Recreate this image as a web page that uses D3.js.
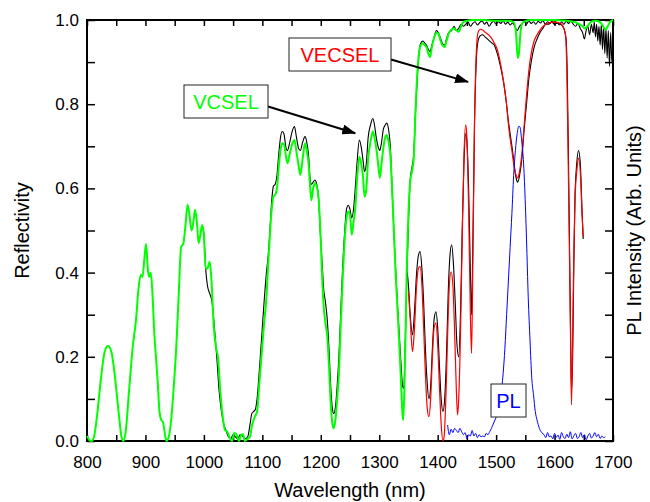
<!DOCTYPE html>
<html>
<head>
<meta charset="utf-8">
<script src="https://cdn.jsdelivr.net/npm/d3@7"></script>
<style>
  body { margin: 0; background: #fff; }
  svg text { font-family: "Liberation Sans", Arial, sans-serif; }
</style>
</head>
<body>
<svg id="chart"></svg>
<script>
// VCSEL simulation (green)
const vcselSimWl = [800, 804, 808, 812, 818, 824, 830, 836, 842, 848, 854, 859, 862, 866, 872, 878, 884, 888, 892, 895, 898, 901, 904, 906, 909, 912, 915, 918, 921, 924, 927, 930, 933, 936, 940, 944, 948, 953, 957, 961, 965, 969, 972, 975, 979, 982, 985, 988, 991, 994, 997, 1000, 1003, 1006, 1010, 1013, 1017, 1021, 1024, 1028, 1032, 1036, 1040, 1044, 1048, 1052, 1056, 1060, 1064, 1067, 1070, 1075, 1079, 1082, 1085, 1088, 1091, 1095, 1099, 1103, 1107, 1110, 1113, 1116, 1119, 1122, 1125, 1128, 1131, 1134, 1137, 1140, 1143, 1147, 1151, 1155, 1158, 1162, 1165, 1169, 1173, 1176, 1179, 1182, 1184, 1187, 1190, 1193, 1196, 1199, 1202, 1205, 1208, 1211, 1214, 1217, 1220, 1222, 1225, 1228, 1231, 1234, 1237, 1241, 1244, 1247, 1250, 1253, 1256, 1259, 1262, 1266, 1269, 1272, 1275, 1278, 1281, 1285, 1289, 1292, 1295, 1298, 1301, 1304, 1307, 1310, 1313, 1316, 1319, 1322, 1325, 1328, 1331, 1334, 1337, 1340, 1341, 1343, 1345, 1347, 1350, 1353, 1356, 1359, 1362, 1365, 1368, 1371, 1375, 1378, 1381, 1384, 1387, 1390, 1394, 1398, 1401, 1404, 1408, 1412, 1415, 1419, 1424, 1428, 1432, 1436, 1440, 1444, 1450, 1460, 1480, 1500, 1520, 1530, 1534, 1537, 1539, 1542, 1546, 1560, 1600, 1620, 1635, 1642, 1648, 1652, 1656, 1662, 1670, 1678, 1683, 1687, 1691, 1695, 1700];
const vcselSimR = [0.012, 0.002, 0.0, 0.01, 0.07, 0.15, 0.21, 0.226, 0.21, 0.15, 0.07, 0.01, 0.0, 0.02, 0.12, 0.22, 0.29, 0.36, 0.395, 0.39, 0.43, 0.468, 0.41, 0.39, 0.4, 0.35, 0.26, 0.2, 0.14, 0.07, 0.05, 0.045, 0.02, 0.0, 0.01, 0.05, 0.12, 0.23, 0.35, 0.46, 0.47, 0.52, 0.561, 0.54, 0.5, 0.52, 0.549, 0.52, 0.47, 0.49, 0.513, 0.49, 0.41, 0.41, 0.426, 0.38, 0.27, 0.22, 0.2, 0.12, 0.06, 0.026, 0.022, 0.008, 0.0, 0.019, 0.015, 0.0, 0.015, 0.016, 0.0, 0.005, 0.01, 0.035, 0.05, 0.06, 0.07, 0.14, 0.21, 0.28, 0.34, 0.42, 0.49, 0.55, 0.58, 0.585, 0.6, 0.65, 0.69, 0.707, 0.705, 0.68, 0.66, 0.683, 0.705, 0.715, 0.69, 0.655, 0.632, 0.67, 0.707, 0.69, 0.66, 0.6, 0.572, 0.6, 0.612, 0.605, 0.58, 0.509, 0.4, 0.32, 0.28, 0.25, 0.18, 0.09, 0.04, 0.03, 0.05, 0.1, 0.16, 0.27, 0.37, 0.48, 0.53, 0.545, 0.537, 0.49, 0.52, 0.553, 0.62, 0.675, 0.66, 0.632, 0.58, 0.6, 0.67, 0.71, 0.735, 0.72, 0.695, 0.66, 0.625, 0.66, 0.695, 0.72, 0.727, 0.71, 0.68, 0.6, 0.5, 0.4, 0.32, 0.24, 0.15, 0.06, 0.05, 0.12, 0.25, 0.4, 0.54, 0.616, 0.64, 0.67, 0.78, 0.87, 0.92, 0.94, 0.945, 0.94, 0.935, 0.92, 0.912, 0.935, 0.958, 0.97, 0.968, 0.955, 0.94, 0.936, 0.95, 0.968, 0.978, 0.98, 0.975, 0.972, 0.985, 0.995, 0.998, 1.0, 1.0, 0.998, 0.998, 0.995, 0.97, 0.91, 0.92, 0.975, 0.995, 1.0, 1.0, 0.998, 0.995, 0.99, 0.985, 0.98, 0.985, 0.995, 0.998, 0.995, 0.985, 0.976, 0.985, 0.995, 1.0];

// VCSEL measured (black)
const vcselMeasWl = [997, 1000, 1003, 1006, 1010, 1014, 1018, 1022, 1026, 1030, 1034, 1038, 1042, 1046, 1050, 1054, 1058, 1062, 1066, 1070, 1075, 1079, 1082, 1085, 1088, 1091, 1095, 1099, 1103, 1107, 1110, 1113, 1116, 1119, 1122, 1125, 1128, 1131, 1134, 1137, 1140, 1143, 1147, 1151, 1155, 1158, 1162, 1165, 1169, 1173, 1176, 1179, 1182, 1184, 1187, 1190, 1193, 1196, 1199, 1202, 1205, 1208, 1211, 1214, 1217, 1220, 1222, 1225, 1228, 1231, 1234, 1237, 1241, 1244, 1247, 1250, 1253, 1256, 1259, 1262, 1266, 1269, 1272, 1275, 1278, 1281, 1285, 1289, 1292, 1295, 1298, 1301, 1304, 1307, 1310, 1313, 1316, 1319, 1322, 1325, 1328, 1331, 1334, 1337, 1340, 1342, 1344, 1347, 1350, 1353, 1356, 1359, 1362, 1365, 1368, 1371, 1375, 1378, 1381, 1384, 1387, 1390, 1394, 1398, 1401, 1404, 1408, 1412, 1415, 1419, 1424, 1428, 1432, 1436, 1440, 1444, 1448, 1452, 1456, 1460, 1464, 1468, 1472, 1476, 1480, 1484, 1488, 1492, 1496, 1500, 1504, 1508, 1512, 1516, 1520, 1524, 1528, 1532, 1536, 1540, 1544, 1548, 1552, 1556, 1560, 1564, 1568, 1572, 1576, 1580, 1584, 1588, 1592, 1596, 1600, 1604, 1608, 1612, 1616, 1620, 1624, 1628, 1632, 1636, 1640, 1644, 1648, 1651, 1654, 1657, 1660, 1663, 1666, 1668, 1670, 1672, 1674, 1676, 1678, 1680, 1682, 1684, 1686, 1688, 1690, 1692, 1694, 1696, 1698, 1700];
const vcselMeasR = [0.513, 0.49, 0.41, 0.37, 0.35, 0.33, 0.27, 0.2, 0.12, 0.07, 0.04, 0.025, 0.01, 0.005, 0.015, 0.01, 0.005, 0.015, 0.012, 0.005, 0.01, 0.04, 0.065, 0.07, 0.075, 0.1, 0.17, 0.25, 0.33, 0.4, 0.44, 0.5, 0.57, 0.605, 0.61, 0.63, 0.68, 0.72, 0.735, 0.73, 0.7, 0.69, 0.71, 0.735, 0.747, 0.725, 0.695, 0.69, 0.71, 0.723, 0.71, 0.68, 0.62, 0.61, 0.615, 0.62, 0.61, 0.58, 0.5, 0.43, 0.36, 0.33, 0.29, 0.22, 0.13, 0.075, 0.065, 0.08, 0.13, 0.2, 0.3, 0.4, 0.5, 0.55, 0.56, 0.55, 0.53, 0.55, 0.6, 0.66, 0.715, 0.7, 0.67, 0.64, 0.66, 0.72, 0.75, 0.766, 0.75, 0.72, 0.7, 0.69, 0.71, 0.74, 0.75, 0.755, 0.74, 0.7, 0.6, 0.5, 0.41, 0.33, 0.26, 0.19, 0.13, 0.125, 0.2, 0.38, 0.52, 0.62, 0.65, 0.68, 0.78, 0.86, 0.92, 0.945, 0.95, 0.945, 0.94, 0.93, 0.925, 0.94, 0.96, 0.975, 0.97, 0.96, 0.945, 0.94, 0.955, 0.97, 0.975, 0.985, 0.975, 0.98, 0.99, 0.985, 0.99, 0.995, 0.985, 0.992, 0.996, 0.988, 0.994, 0.998, 0.99, 0.995, 0.985, 0.993, 0.997, 0.99, 0.996, 0.992, 0.998, 0.99, 0.995, 0.988, 0.993, 0.985, 0.975, 0.985, 0.99, 0.996, 0.99, 0.998, 0.992, 0.996, 0.99, 0.997, 0.993, 0.999, 0.99, 0.996, 0.992, 0.998, 0.99, 0.995, 0.988, 0.996, 0.99, 0.997, 0.992, 0.998, 0.99, 0.985, 0.992, 0.98, 0.97, 0.955, 0.975, 0.985, 0.965, 0.99, 0.97, 0.995, 0.96, 0.99, 0.95, 0.985, 0.94, 0.99, 0.93, 0.985, 0.92, 0.98, 0.91, 0.975, 0.89, 0.97, 0.9, 0.96];

// VECSEL simulation (red)
const vecselSimWl = [1350, 1353, 1357, 1360, 1364, 1367, 1370, 1373, 1376, 1379, 1382, 1385, 1388, 1391, 1394, 1397, 1400, 1403, 1406, 1409, 1411, 1414, 1417, 1420, 1423, 1426, 1429, 1432, 1434, 1436, 1439, 1442, 1445, 1448, 1450, 1453, 1456, 1458, 1460, 1463, 1466, 1469, 1473, 1477, 1482, 1487, 1492, 1497, 1502, 1507, 1512, 1517, 1522, 1527, 1531, 1534, 1537, 1540, 1544, 1548, 1552, 1556, 1560, 1565, 1570, 1575, 1580, 1589, 1598, 1606, 1612, 1616, 1619, 1621, 1623, 1625, 1627, 1629, 1631, 1633, 1635, 1638, 1641, 1644, 1647, 1649];
const vecselSimR = [0.355, 0.29, 0.212, 0.26, 0.37, 0.41, 0.414, 0.37, 0.27, 0.16, 0.08, 0.058, 0.1, 0.2, 0.27, 0.28, 0.23, 0.13, 0.04, 0.0, 0.01, 0.1, 0.25, 0.37, 0.402, 0.37, 0.26, 0.12, 0.062, 0.1, 0.25, 0.48, 0.68, 0.751, 0.72, 0.55, 0.3, 0.208, 0.4, 0.75, 0.92, 0.97, 0.978, 0.976, 0.97, 0.965, 0.957, 0.945, 0.93, 0.9, 0.86, 0.81, 0.74, 0.69, 0.65, 0.632, 0.625, 0.64, 0.68, 0.75, 0.82, 0.88, 0.92, 0.95, 0.965, 0.976, 0.985, 0.992, 0.995, 0.994, 0.99, 0.98, 0.96, 0.88, 0.7, 0.5, 0.28, 0.086, 0.25, 0.45, 0.576, 0.64, 0.672, 0.64, 0.54, 0.485];

// VECSEL measured (black)
const vecselMeasWl = [1348, 1350, 1353, 1357, 1360, 1364, 1367, 1370, 1373, 1376, 1379, 1382, 1385, 1388, 1391, 1394, 1397, 1400, 1403, 1406, 1409, 1412, 1415, 1418, 1421, 1424, 1427, 1430, 1433, 1436, 1439, 1442, 1445, 1448, 1450, 1453, 1456, 1458, 1460, 1463, 1466, 1469, 1473, 1477, 1481, 1485, 1489, 1493, 1497, 1501, 1505, 1509, 1513, 1517, 1521, 1525, 1529, 1532, 1535, 1537, 1540, 1544, 1548, 1552, 1556, 1560, 1565, 1570, 1575, 1580, 1585, 1590, 1595, 1600, 1605, 1610, 1614, 1618, 1620, 1622, 1624, 1626, 1628, 1629, 1631, 1633, 1635, 1638, 1641, 1644, 1647, 1649];
const vecselMeasR = [0.4, 0.37, 0.3, 0.252, 0.3, 0.4, 0.44, 0.45, 0.41, 0.33, 0.22, 0.14, 0.1, 0.13, 0.22, 0.29, 0.307, 0.27, 0.18, 0.1, 0.07, 0.1, 0.2, 0.35, 0.44, 0.466, 0.42, 0.33, 0.23, 0.2, 0.3, 0.5, 0.66, 0.73, 0.71, 0.6, 0.4, 0.3, 0.45, 0.75, 0.9, 0.95, 0.963, 0.965, 0.96, 0.955, 0.95, 0.945, 0.94, 0.925, 0.905, 0.88, 0.85, 0.81, 0.76, 0.72, 0.68, 0.645, 0.62, 0.615, 0.63, 0.67, 0.74, 0.8, 0.86, 0.9, 0.935, 0.955, 0.97, 0.98, 0.99, 0.99, 0.995, 0.99, 0.993, 0.99, 0.985, 0.97, 0.95, 0.85, 0.65, 0.42, 0.2, 0.12, 0.2, 0.42, 0.58, 0.66, 0.69, 0.66, 0.55, 0.48];

// PL (blue)
const plWl = [1417, 1420, 1423, 1426, 1429, 1432, 1435, 1438, 1441, 1444, 1447, 1450, 1453, 1456, 1459, 1462, 1465, 1468, 1471, 1474, 1477, 1480, 1483, 1486, 1489, 1492, 1495, 1498, 1501, 1504, 1507, 1510, 1512, 1515, 1518, 1521, 1524, 1527, 1530, 1533, 1536, 1539, 1541, 1544, 1547, 1549, 1552, 1555, 1558, 1561, 1564, 1567, 1570, 1574, 1578, 1582, 1585, 1588, 1591, 1594, 1597, 1600, 1603, 1606, 1609, 1612, 1615, 1618, 1621, 1624, 1627, 1630, 1633, 1636, 1639, 1642, 1645, 1648, 1651, 1654, 1657, 1660, 1663, 1666, 1669, 1672, 1675, 1678, 1681, 1684, 1687];
const plI = [0.038, 0.015, 0.028, 0.02, 0.03, 0.025, 0.02, 0.03, 0.022, 0.015, 0.02, 0.006, 0.015, 0.012, 0.025, 0.012, 0.018, 0.008, 0.015, 0.01, 0.012, 0.01, 0.018, 0.015, 0.022, 0.03, 0.04, 0.05, 0.06, 0.08, 0.105, 0.13, 0.16, 0.22, 0.3, 0.38, 0.46, 0.54, 0.63, 0.69, 0.73, 0.748, 0.745, 0.71, 0.66, 0.6, 0.48, 0.34, 0.24, 0.15, 0.11, 0.07, 0.05, 0.03, 0.02, 0.015, 0.008, 0.02, 0.01, 0.012, 0.005, 0.018, 0.009, 0.014, 0.004, 0.02, 0.01, 0.006, 0.016, 0.008, 0.022, 0.005, 0.012, 0.018, 0.006, 0.01, 0.02, 0.008, 0.015, 0.003, 0.012, 0.018, 0.007, 0.012, 0.02, 0.01, 0.016, 0.006, 0.012, 0.008, 0.01];

const xTicks = d3.range(800, 1701, 50);
const yTicks = d3.range(0, 1.001, 0.1);

const width = 650;
const height = 502;

const x = d3.scaleLinear().domain([800, 1700]).range([87, 613]);
const y = d3.scaleLinear().domain([0, 1]).range([441, 20]);

const svg = d3.select("#chart")
    .attr("width", width)
    .attr("height", height);

// axes (ticks point inward)
svg.append("g")
    .attr("transform", `translate(0,${y(0)})`)
    .call(d3.axisBottom(x).tickValues(xTicks).tickSizeInner(-6).tickSizeOuter(0).tickPadding(15)
        .tickFormat(d => d % 100 === 0 ? d : ""))
    .call(g => g.selectAll("text").attr("font-size", 17).attr("fill", "#000"));

svg.append("g")
    .attr("transform", `translate(0,${y(1)})`)
    .call(d3.axisTop(x).tickValues(xTicks).tickSizeInner(-6).tickSizeOuter(0).tickFormat(""));

svg.append("g")
    .attr("transform", `translate(${x(800)},0)`)
    .call(d3.axisLeft(y).tickValues(yTicks).tickSizeInner(-8).tickSizeOuter(0).tickPadding(8)
        .tickFormat(d => Math.round(d * 10) % 2 === 0 ? d3.format(".1f")(d) : ""))
    .call(g => g.selectAll("text").attr("font-size", 17).attr("fill", "#000"));

svg.append("g")
    .attr("transform", `translate(${x(1700)},0)`)
    .call(d3.axisRight(y).tickValues(yTicks).tickSizeInner(-8).tickSizeOuter(0).tickFormat(""));

svg.selectAll(".domain").remove();
svg.selectAll(".tick line").attr("stroke", "#000").attr("stroke-width", 1.5);

svg.append("rect")
    .attr("x", x(800))
    .attr("y", y(1))
    .attr("width", x(1700) - x(800))
    .attr("height", y(0) - y(1))
    .attr("fill", "none")
    .attr("stroke", "#000")
    .attr("stroke-width", 2);

// axis titles
svg.append("text")
    .attr("x", (x(800) + x(1700)) / 2)
    .attr("y", 497)
    .attr("text-anchor", "middle")
    .attr("font-size", 20)
    .text("Wavelength (nm)");

svg.append("text")
    .attr("transform", `translate(29,${(y(0) + y(1)) / 2}) rotate(-90)`)
    .attr("text-anchor", "middle")
    .attr("font-size", 20)
    .text("Reflectivity");

svg.append("text")
    .attr("transform", `translate(641,${(y(0) + y(1)) / 2}) rotate(-90)`)
    .attr("text-anchor", "middle")
    .attr("font-size", 20)
    .text("PL Intensity (Arb. Units)");

// curves
const line = d3.line()
    .x(d => x(d[0]))
    .y(d => y(d[1]))
    .curve(d3.curveMonotoneX);

const plot = svg.append("g");

function drawCurve(wl, vals, color, w) {
    plot.append("path")
        .datum(d3.zip(wl, vals))
        .attr("fill", "none")
        .attr("stroke", color)
        .attr("stroke-width", w)
        .attr("stroke-linejoin", "round")
        .attr("d", line);
}

drawCurve(vcselMeasWl, vcselMeasR, "#000", 1.1);
drawCurve(vecselMeasWl, vecselMeasR, "#000", 1.1);
drawCurve(vecselSimWl, vecselSimR, "#ff0000", 1.2);
drawCurve(vcselSimWl, vcselSimR, "#00ff00", 2);
drawCurve(plWl, plI, "#0000ff", 1);

// annotations
svg.append("defs").append("marker")
    .attr("id", "arrow")
    .attr("markerUnits", "userSpaceOnUse")
    .attr("markerWidth", 14)
    .attr("markerHeight", 10)
    .attr("refX", 13)
    .attr("refY", 5)
    .attr("orient", "auto")
    .append("path")
    .attr("d", "M0,0L14,5L0,10z")
    .attr("fill", "#000");

function label(txt, color, bx, by, bw, bh, arrowTo) {
    const g = svg.append("g");
    if (arrowTo) {
        g.append("line")
            .attr("x1", bx + bw)
            .attr("y1", by + bh * 0.65)
            .attr("x2", x(arrowTo[0]))
            .attr("y2", y(arrowTo[1]))
            .attr("stroke", "#000")
            .attr("stroke-width", 2)
            .attr("marker-end", "url(#arrow)");
    }
    g.append("rect")
        .attr("x", bx)
        .attr("y", by)
        .attr("width", bw)
        .attr("height", bh)
        .attr("fill", "#fff")
        .attr("stroke", "#222")
        .attr("stroke-width", 1);
    g.append("text")
        .attr("x", bx + bw / 2)
        .attr("y", by + bh / 2 + 7)
        .attr("text-anchor", "middle")
        .attr("font-size", 20)
        .attr("fill", color)
        .text(txt);
}

label("VCSEL", "#00ff00", 184, 85, 84, 33, [1259, 0.731]);
label("VECSEL", "#ff0000", 289, 38, 102, 33, [1452, 0.853]);
label("PL", "#0000ff", 491, 384, 35, 33, null);
</script>
</body>
</html>
